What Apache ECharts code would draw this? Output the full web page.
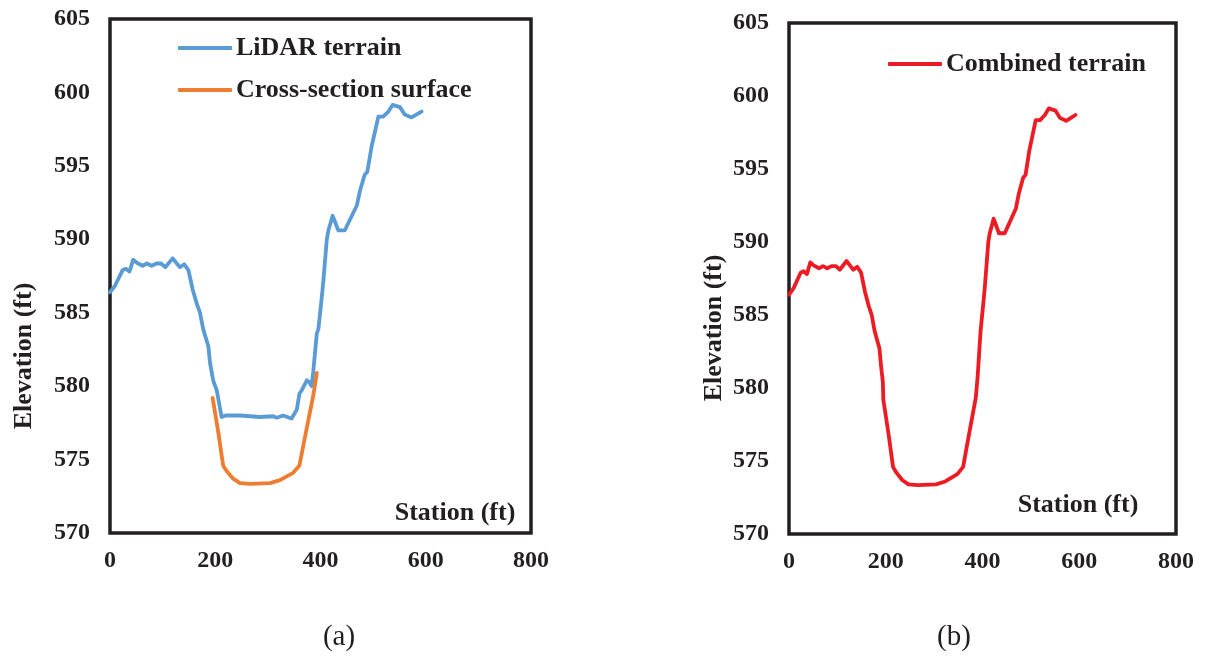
<!DOCTYPE html>
<html>
<head>
<meta charset="utf-8">
<script src="https://cdn.jsdelivr.net/npm/echarts@6/dist/echarts.min.js"></script>
<style>
html,body{margin:0;padding:0;background:#fff;}
#c{width:1207px;height:657px;}
</style>
</head>
<body>
<div id="c"></div>
<script>
// Station (ft), Elevation (ft)
var lidarTerrain = [
  [0,586.4],[9,586.8],[24,587.9],[30,588.0],[37,587.8],[44,588.6],[51,588.4],[62,588.2],
  [70,588.35],[79,588.2],[88,588.35],[97,588.35],[105,588.1],[119,588.7],[127,588.35],
  [133,588.1],[141,588.3],[149,587.9],[157,586.6],[165,585.6],[171,585.0],[177,583.9],
  [187,582.7],[190,581.6],[196,580.4],[203,579.7],[212,577.9],[220,578.0],[235,578.0],
  [247,578.0],[266,577.95],[285,577.9],[310,577.95],[317,577.85],[329,578.0],[345,577.8],
  [355,578.4],[360,579.5],[364,579.7],[374,580.4],[378,580.3],[383,580.0],[386,580.9],
  [393,583.6],[396,583.9],[402,585.9],[405,587.0],[412,590.0],[415,590.6],[423,591.6],
  [434,590.6],[446,590.6],[469,592.3],[475,593.3],[484,594.4],[489,594.6],[497,596.3],
  [510,598.35],[519,598.35],[529,598.7],[537,599.15],[551,599.0],[560,598.5],[573,598.3],
  [592,598.7]
];
var crossSection = [
  [195,579.2],[206,576.8],[215,574.6],[222,574.2],[234,573.7],[247,573.4],[266,573.35],
  [304,573.4],[323,573.6],[348,574.1],[360,574.6],[367,575.9],[377,577.7],[386,579.3],
  [393,580.9]
];
var combinedTerrain = [
  [0,586.4],[9,586.8],[24,587.9],[30,588.0],[37,587.8],[44,588.6],[51,588.4],[62,588.2],
  [70,588.35],[79,588.2],[88,588.35],[97,588.35],[105,588.1],[119,588.7],[127,588.35],
  [133,588.1],[141,588.3],[149,587.9],[157,586.6],[165,585.6],[171,585.0],[177,583.9],
  [187,582.7],[190,581.6],[194,580.4],[195,579.2],[206,576.8],[215,574.6],[222,574.2],
  [234,573.7],[247,573.4],[266,573.35],[304,573.4],[323,573.6],[348,574.1],[360,574.6],
  [367,575.9],[377,577.7],[386,579.3],[390,580.8],[396,583.9],[402,585.9],[405,587.0],
  [412,590.0],[415,590.6],[423,591.6],[434,590.6],[446,590.6],[469,592.3],[475,593.3],
  [484,594.4],[489,594.6],[497,596.3],[510,598.35],[519,598.35],[529,598.7],[537,599.15],
  [551,599.0],[560,598.5],[573,598.3],[592,598.7]
];
var xMin = 0, xMax = 800, xStep = 200;
var yMin = 570, yMax = 605, yStep = 5;
var seriesNames = ['LiDAR terrain', 'Cross-section surface', 'Combined terrain'];
var panelLabels = ['(a)', '(b)'];
var axisTitleX = 'Station (ft)';
var axisTitleY = 'Elevation (ft)';

var ink = '#231f20';
var serif = '"Liberation Serif","Times New Roman",serif';
var tickLabel = {color: ink, fontFamily: serif, fontWeight: 'bold', fontSize: 24};

function xAxis(i){
  return {gridIndex:i, type:'value', min:xMin, max:xMax, interval:xStep,
    axisLine:{show:false}, axisTick:{show:false}, splitLine:{show:false},
    axisLabel:Object.assign({margin:16}, tickLabel)};
}
function yAxis(i){
  return {gridIndex:i, type:'value', min:yMin, max:yMax, interval:yStep,
    axisLine:{show:false}, axisTick:{show:false}, splitLine:{show:false},
    axisLabel:Object.assign({margin:20}, tickLabel)};
}
function line(name, data, color, i){
  return {name:name, type:'line', xAxisIndex:i, yAxisIndex:i, data:data,
    symbol:'none', smooth:false, lineStyle:{color:color, width:3.8, join:'round', cap:'round'}, itemStyle:{color:color},
    animation:false};
}
function txt(x, y, text, font, rot){
  return {type:'text', x:x, y:y, rotation:rot||0,
    style:{text:text, font:font, fill:ink, align:'center', verticalAlign:'middle'}};
}
var titleFont = 'bold 26px ' + serif;
var capFont = '29px ' + serif;
var legendText = {color:ink, fontFamily:serif, fontWeight:'bold', fontSize:26, lineHeight:30, padding:[0,0,0,-1]};

var chart = echarts.init(document.getElementById('c'));
chart.setOption({
  backgroundColor:'#fff',
  animation:false,
  grid:[
    {left:110, top:19, width:421, height:514, show:true, borderColor:ink, borderWidth:3.5, containLabel:false},
    {left:789, top:23, width:387, height:511, show:true, borderColor:ink, borderWidth:3.5, containLabel:false}
  ],
  xAxis:[xAxis(0), xAxis(1)],
  yAxis:[yAxis(0), yAxis(1)],
  legend:[
    {data:[seriesNames[0], seriesNames[1]], orient:'vertical', left:173, top:28,
      itemWidth:54, itemHeight:4, itemGap:12, icon:'roundRect', textStyle:legendText},
    {data:[seriesNames[2]], orient:'vertical', left:883, top:44,
      itemWidth:54, itemHeight:4, itemGap:12, icon:'roundRect', textStyle:legendText}
  ],
  series:[
    line(seriesNames[0], lidarTerrain, '#5b9bd5', 0),
    line(seriesNames[1], crossSection, '#ed7d31', 0),
    line(seriesNames[2], combinedTerrain, '#ed1c24', 1)
  ],
  graphic:[
    txt(24, 356, axisTitleY, titleFont, Math.PI/2),
    txt(714, 328, axisTitleY, titleFont, Math.PI/2),
    txt(455, 513, axisTitleX, titleFont),
    txt(1078, 505, axisTitleX, titleFont),
    txt(339, 637, panelLabels[0], capFont),
    txt(954, 637, panelLabels[1], capFont)
  ]
});
</script>
</body>
</html>
